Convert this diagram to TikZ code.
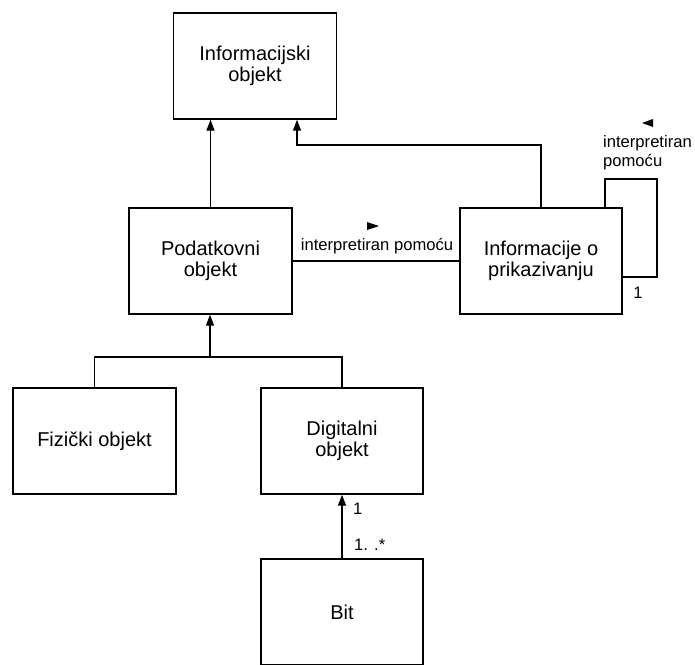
\documentclass[tikz,border=0pt]{standalone}
\usepackage{fontspec}
\setmainfont{Liberation Sans}
\usetikzlibrary{arrows.meta}
\begin{document}
\begin{tikzpicture}[x=1pt,y=-1pt,
  cls/.style={draw, line width=1.4pt, inner sep=0pt, align=center,
    minimum width=163pt, minimum height=106pt,
    font=\fontsize{20}{21.5}\selectfont},
  conn/.style={line width=1.4pt},
  gen/.style={conn, -{Triangle[length=11pt,width=8pt]}},
  lbl/.style={inner sep=0pt, font=\fontsize{16.6}{19}\selectfont}]
\useasboundingbox (0,0) rectangle (695,664);
\clip (0,0) rectangle (695,664);

% classes
\node[cls] (info) at (255,66)    {Informacijski\\objekt};
\node[cls] (pod)  at (210.5,261) {Podatkovni\\objekt};
\node[cls, minimum width=162pt] (prik) at (541,261) {Informacije o\\prikazivanju};
\node[cls] (fiz)  at (94.5,441)  {Fizički objekt};
\node[cls, minimum width=162pt] (dig) at (342,441) {Digitalni\\objekt};
\node[cls, minimum width=162pt] (bit) at (342,612) {Bit};

% generalisation: Podatkovni objekt -> Informacijski objekt
\draw[gen] (pod.north) -- (pod.north |- info.south);

% generalisation: Informacije o prikazivanju -> Informacijski objekt
\coordinate (bend) at (297,145);
\draw[gen] (prik.north) |- (bend) -- (bend |- info.south);

% association between Podatkovni objekt and Informacije o prikazivanju
\draw[conn] (pod.east) -- (prik.west);
\node[lbl] (assoc) at (377,246) {interpretiran pomoću};
\fill (367,222) -- (379,226) -- (367,230) -- cycle;

% self association on Informacije o prikazivanju
\coordinate (loopA) at (605,179);
\coordinate (loopB) at (657,277);
\draw[conn] (prik.north -| loopA) |- (loopA) -| (loopB) -- (loopB -| prik.east);
\node[lbl, anchor=west] (selfa) at (603,143) {interpretiran};
\node[lbl, anchor=west] (selfb) at (603,162) {pomoću};
\fill (653,119) -- (642,123) -- (653,127) -- cycle;
\node[lbl] (selfm) at (638,293) {1};

% generalisation: Fizički / Digitalni objekt -> Podatkovni objekt
\coordinate (join) at (210,357);
\draw[conn] (fiz.north) |- (join) -| (dig.north);
\draw[gen] (join) -- (join |- pod.south);

% composition: Bit -> Digitalni objekt
\draw[gen] (bit.north) -- (dig.south);
\node[lbl, anchor=west] (mtop) at (353,509) {1};
\node[lbl, anchor=west] (mbot) at (354,545) {1. .*};
\end{tikzpicture}
\end{document}
